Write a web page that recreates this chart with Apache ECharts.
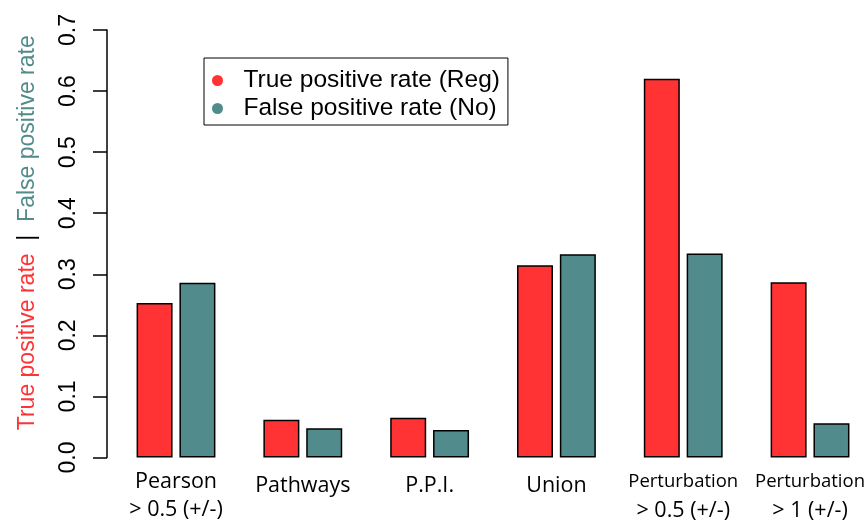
<!DOCTYPE html>
<html>
<head>
<meta charset="utf-8">
<script src="https://cdn.jsdelivr.net/npm/echarts@6/dist/echarts.min.js"></script>
<style>
  html, body { margin: 0; padding: 0; background: #fff; }
  #chart { width: 868px; height: 522px; }
</style>
</head>
<body>
<div id="chart"></div>
<script>
var categories = ['Pearson\n> 0.5 (+/-)', 'Pathways', 'P.P.I.', 'Union', 'Perturbation\n> 0.5 (+/-)', 'Perturbation\n> 1 (+/-)'];
var truePositive = [0.253, 0.062, 0.065, 0.315, 0.620, 0.287];
var falsePositive = [0.286, 0.048, 0.045, 0.333, 0.334, 0.056];
var seriesNames = ['True positive rate (Reg)', 'False positive rate (No)'];

var red = '#FF3333';
var teal = '#528B8B';

function handle() {
    var option = {
        animation: false,
        grid: {
            left: 176,
            right: 56,
            top: 30,
            bottom: 64
        },
        legend: {
            orient: 'vertical',
            left: 204,
            top: 58,
            icon: 'circle',
            itemWidth: 30,
            itemHeight: 11,
            itemGap: 3,
            padding: [10, 8, 4, 8],
            borderColor: '#000',
            borderWidth: 1,
            backgroundColor: '#fff',
            itemStyle: { borderWidth: 0 },
            textStyle: {
                fontFamily: 'Liberation Sans',
                fontSize: 24.5,
                lineHeight: 22,
                color: '#000',
                padding: [0, 0, 0, 6]
            },
            data: seriesNames
        },
        xAxis: {
            type: 'category',
            boundaryGap: false,
            data: categories,
            axisLine: { show: false },
            axisTick: { show: false },
            axisLabel: {
                interval: 0,
                margin: 10,
                formatter: function (v) {
                    var lines = v.split('\n');
                    if (v.indexOf('Perturbation') === 0) {
                        return '{s|' + lines[0] + '}\n{b|' + lines[1] + '}';
                    }
                    if (lines.length === 1) {
                        return '{one|' + v + '}';
                    }
                    return lines.map(function (l) { return '{a|' + l + '}'; }).join('\n');
                },
                rich: {
                    a: { fontFamily: 'Open Sans', fontSize: 21.5, lineHeight: 28, color: '#000' },
                    one: { fontFamily: 'Open Sans', fontSize: 21.5, lineHeight: 37, color: '#000' },
                    s: { fontFamily: 'Open Sans', fontSize: 18.5, lineHeight: 29, color: '#000' },
                    b: { fontFamily: 'Open Sans', fontSize: 21.5, lineHeight: 29, color: '#000' }
                }
            }
        },
        yAxis: {
            type: 'value',
            min: 0,
            max: 0.7,
            interval: 0.1,
            offset: 69,
            splitLine: { show: false },
            axisLine: { show: true, lineStyle: { color: '#000', width: 1.5 } },
            axisTick: { show: true, length: 14, lineStyle: { color: '#000', width: 1.5 } },
            axisLabel: {
                rotate: 90,
                margin: 27,
                fontFamily: 'Liberation Sans',
                fontSize: 23,
                color: '#000',
                formatter: function (v) { return v.toFixed(1); }
            },
            name: '{r|True positive rate}{k|  |  }{g|False positive rate}',
            nameLocation: 'middle',
            nameRotate: 90,
            nameGap: 68,
            nameTextStyle: {
                padding: [0, 0, 0, 22],
                rich: {
                    r: { fontFamily: 'Liberation Sans', fontSize: 23, color: red },
                    k: { fontFamily: 'Liberation Sans', fontSize: 23, color: '#000' },
                    g: { fontFamily: 'Liberation Sans', fontSize: 23, color: teal }
                }
            }
        },
        series: [{
            name: seriesNames[0],
            type: 'bar',
            data: truePositive,
            barWidth: 36,
            barGap: '19%',
            itemStyle: { color: red, borderColor: '#000', borderWidth: 1.5 }
        }, {
            name: seriesNames[1],
            type: 'bar',
            data: falsePositive,
            barWidth: 36,
            barGap: '19%',
            itemStyle: { color: teal, borderColor: '#000', borderWidth: 1.5 }
        }]
    };

    var myChart = echarts.init(document.getElementById('chart'));
    myChart.setOption(option);
}

handle();
</script>
</body>
</html>
